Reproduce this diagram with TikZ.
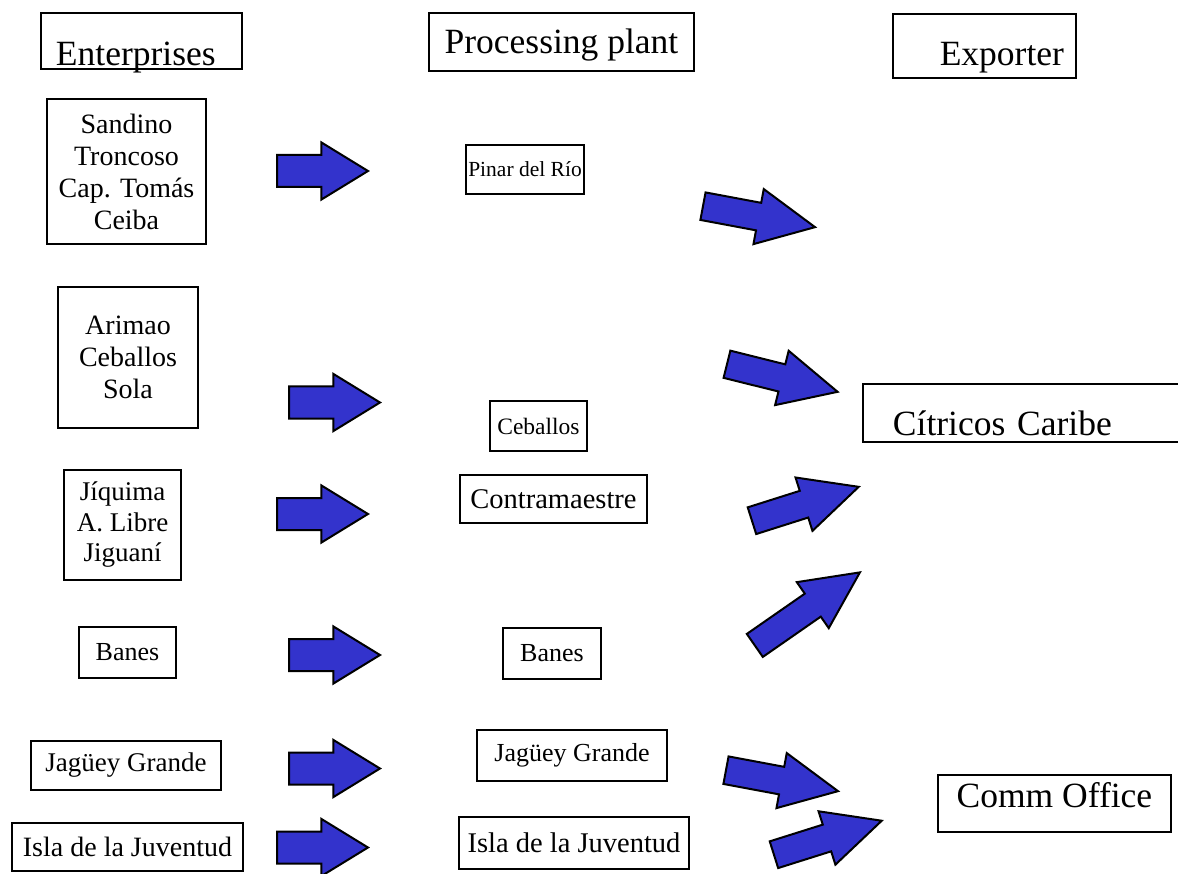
\documentclass[tikz,border=0pt]{standalone}
\usepackage{fontspec}
\setmainfont{Liberation Serif}
\usetikzlibrary{shapes.arrows}

\definecolor{arrowblue}{RGB}{51,51,204}

\begin{document}
\begin{tikzpicture}[
		x=1pt, y=-1pt,
		box/.style={draw, line width=1.9pt, inner sep=0pt, font=\fontsize{28}{32}\selectfont, align=center},
		head/.style={draw, line width=1.9pt, inner ysep=0pt, font=\fontsize{35.5}{42}\selectfont, anchor=north west},
		flatarrow/.style={single arrow, draw, line width=2pt, fill=arrowblue, anchor=tail, inner xsep=0pt, inner ysep=15pt, single arrow head extend=12.5pt, single arrow tip angle=63, minimum height=91pt},
		slantarrow/.style={flatarrow, inner ysep=13pt, single arrow head extend=14pt, single arrow tip angle=52, minimum height=114pt}
		]
		\useasboundingbox (0,0) rectangle (1178,874);
		
		% headings
		\node[head, text width=171pt, inner xsep=15pt, align=left, text height=53pt, text depth=3pt] (enterprises) at (40,12) {Enterprises};
		\node[head, minimum width=265pt, text height=41pt, text depth=17pt] (plant) at (428,12) {Processing plant};
		\node[head, text width=159pt, inner xsep=12pt, align=right, text height=52pt, text depth=12pt] (exporter) at (892,13) {Exporter};
		\node[head, text width=280pt, inner xsep=30pt, align=left, text height=52pt, text depth=6pt] (citricos) at (862,383) {Cítricos Caribe};
		\node[head, minimum width=233pt, text height=33pt, text depth=24pt] (comm) at (937,774) {Comm Office};
		
		% enterprises
		\node[box, minimum width=159pt, minimum height=145pt] (e-pinar) at (126.5,171.5) {Sandino\\Troncoso\\Cap. Tomás\\Ceiba};
		\node[box, minimum width=140pt, minimum height=141pt] (e-ceballos) at (128,357.5) {Arimao\\Ceballos\\Sola};
		\node[box, minimum width=117pt, minimum height=110pt, font=\fontsize{27}{30.5}\selectfont] (e-contra) at (122.5,525) {Jíquima\\A. Libre\\Jiguaní};
		\node[box, minimum width=97pt, minimum height=51pt, font=\fontsize{26}{30}\selectfont] (e-banes) at (127.5,652.5) {Banes};
		\node[box, minimum width=190pt, minimum height=49pt, font=\fontsize{27}{30}\selectfont] (e-jaguey) at (126,765.5) {Jagüey Grande};
		\node[box, minimum width=231pt, minimum height=48pt] (e-isla) at (127.5,847) {Isla de la Juventud};
		
		% processing plants
		\node[box, minimum width=118pt, minimum height=49pt, font=\fontsize{21.5}{26}\selectfont] (p-pinar) at (525,169.5) {Pinar del Río};
		\node[box, minimum width=97pt, minimum height=50pt, font=\fontsize{23.5}{28}\selectfont] (p-ceballos) at (538.5,426) {Ceballos};
		\node[box, minimum width=187pt, minimum height=48pt, font=\fontsize{28.5}{32}\selectfont] (p-contra) at (553.5,499) {Contramaestre};
		\node[box, minimum width=98pt, minimum height=51pt, font=\fontsize{26}{30}\selectfont] (p-banes) at (552,653.5) {Banes};
		\node[box, minimum width=190pt, minimum height=51pt, font=\fontsize{26}{30}\selectfont] (p-jaguey) at (572,755.5) {Jagüey Grande};
		\node[box, minimum width=230pt, minimum height=52pt, font=\fontsize{28.5}{32}\selectfont] (p-isla) at (574,843) {Isla de la Juventud};
		
		% enterprise to plant
		\node[flatarrow] (a-pinar) at (276,171) {};
		\node[flatarrow] (a-ceballos) at (288,402.5) {};
		\node[flatarrow] (a-contra) at (276,514) {};
		\node[flatarrow] (a-banes) at (288,655) {};
		\node[flatarrow] (a-jaguey) at (288,768.5) {};
		\node[flatarrow] (a-isla) at (276,847.5) {};
		
		% plant to exporter
		\node[slantarrow, rotate=-10.6] (x-pinar) at (702,206) {};
		\node[slantarrow, rotate=-14] (x-ceballos) at (726,364) {};
		\node[slantarrow, rotate=17.6, minimum height=112pt] (x-contra) at (751,521) {};
		\node[slantarrow, rotate=34.8, minimum height=128pt] (x-banes) at (754,646) {};
		\node[slantarrow, rotate=-10.6] (x-jaguey) at (725,770) {};
		\node[slantarrow, rotate=17.5, minimum height=113pt] (x-isla) at (773,855) {};
	\end{tikzpicture}
\end{document}
